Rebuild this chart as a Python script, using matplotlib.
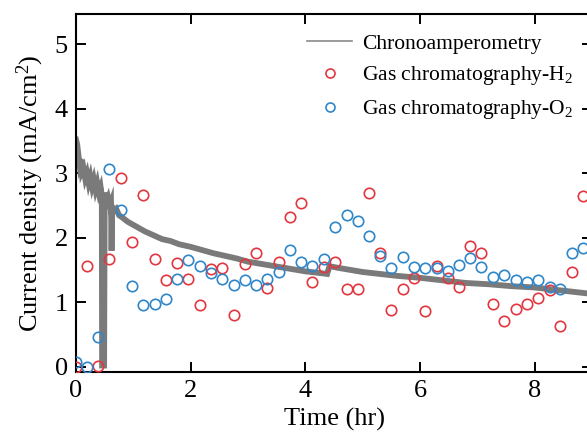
#!/usr/bin/env python3
"""Chronoamperometry vs gas chromatography current density over time."""

import matplotlib
matplotlib.use('Agg')
import matplotlib.pyplot as plt
from matplotlib.lines import Line2D

plt.rcParams['font.family'] = ['Liberation Serif', 'DejaVu Serif']
plt.rcParams['mathtext.fontset'] = 'custom'
plt.rcParams['mathtext.rm'] = 'Liberation Serif'
plt.rcParams['mathtext.it'] = 'Liberation Serif:italic'

# chronoamperometry trace (centre of the noisy band)
ca_time = [0.00, 0.02, 0.04, 0.06, 0.08, 0.10, 0.13, 0.16, 0.19, 0.22,
           0.25, 0.28, 0.31, 0.34, 0.37, 0.40, 0.43, 0.45, 0.455, 0.49,
           0.50, 0.53, 0.56, 0.59, 0.61, 0.62, 0.63, 0.66, 0.70, 0.75,
           0.80, 0.90, 1.00, 1.10, 1.20, 1.30, 1.40, 1.50, 1.65, 1.80,
           2.00, 2.20, 2.40, 2.60, 2.80, 3.00, 3.20, 3.40, 3.60, 3.80,
           4.00, 4.20, 4.38, 4.42, 4.60, 4.80, 5.00, 5.30, 5.60, 6.00,
           6.40, 6.80, 7.20, 7.60, 8.00, 8.40, 8.80, 9.00]
ca_current = [3.52, 3.45, 3.30, 3.15, 3.22, 3.02, 3.08, 2.92, 3.00, 2.85,
              2.95, 2.80, 2.90, 2.75, 2.85, 2.70, 2.78, 2.65, 0.02, 0.02,
              2.70, 2.55, 2.62, 2.50, 2.55, 1.80, 2.48, 2.42, 2.45, 2.35,
              2.32, 2.25, 2.20, 2.15, 2.10, 2.06, 2.02, 1.98, 1.95, 1.90,
              1.86, 1.81, 1.76, 1.72, 1.68, 1.63, 1.60, 1.57, 1.54, 1.51,
              1.48, 1.46, 1.44, 1.56, 1.53, 1.50, 1.47, 1.44, 1.41, 1.38,
              1.34, 1.30, 1.28, 1.25, 1.23, 1.19, 1.15, 1.13]

# gas chromatography sampling times (hr)
gc_time = [0.00, 0.19, 0.39, 0.58, 0.78, 0.98, 1.17, 1.37, 1.57, 1.77,
           1.96, 2.16, 2.35, 2.55, 2.75, 2.94, 3.14, 3.34, 3.54, 3.73,
           3.93, 4.12, 4.32, 4.52, 4.72, 4.91, 5.11, 5.30, 5.50, 5.70,
           5.90, 6.09, 6.29, 6.49, 6.68, 6.88, 7.07, 7.27, 7.47, 7.67,
           7.86, 8.06, 8.26, 8.45, 8.65, 8.85]
gc_h2 = [0.00, 1.57, 0.01, 1.67, 2.92, 1.93, 2.66, 1.67, 1.35, 1.61,
         1.36, 0.96, 1.51, 1.53, 0.80, 1.60, 1.76, 1.22, 1.62, 2.33,
         2.54, 1.32, 1.54, 1.62, 1.20, 1.20, 2.69, 1.77, 0.88, 1.20,
         1.37, 0.87, 1.57, 1.37, 1.24, 1.88, 1.77, 0.98, 0.71, 0.89,
         0.97, 1.07, 1.19, 0.64, 1.47, 2.65]
gc_o2 = [0.07, 0.00, 0.46, 3.07, 2.43, 1.25, 0.96, 0.98, 1.05, 1.36,
         1.65, 1.57, 1.46, 1.36, 1.27, 1.35, 1.27, 1.36, 1.47, 1.81,
         1.62, 1.57, 1.67, 2.17, 2.35, 2.26, 2.03, 1.72, 1.53, 1.70,
         1.55, 1.53, 1.53, 1.49, 1.58, 1.69, 1.55, 1.40, 1.42, 1.35,
         1.32, 1.34, 1.23, 1.20, 1.77, 1.84]

x_ticks = [0, 2, 4, 6, 8]
y_ticks = [0, 1, 2, 3, 4, 5]

GRAY = '#7a7a7a'
RED = '#e2373f'
BLUE = '#2f86c8'

fig = plt.figure(figsize=(5.87, 4.41), dpi=100)
# the original picture is cropped just before the right spine
ax = fig.add_axes([0.1295, 0.1565, 0.879, 0.8118])

ax.plot(ca_time, ca_current, color=GRAY, linewidth=4.2, solid_joinstyle='miter', zorder=2)
ax.plot(gc_time, gc_h2, linestyle='none', marker='o', markersize=7.5,
        markerfacecolor='none', markeredgecolor=RED, markeredgewidth=1.2, zorder=3)
ax.plot(gc_time, gc_o2, linestyle='none', marker='o', markersize=7.5,
        markerfacecolor='none', markeredgecolor=BLUE, markeredgewidth=1.2, zorder=3)

ax.set_xlim(0, 9)
ax.set_ylim(-0.08, 5.47)
ax.set_xticks(x_ticks)
ax.set_yticks(y_ticks)
ax.tick_params(direction='in', length=7, width=1.4, labelsize=19,
               top=True, right=True, pad=6)
for sp in ax.spines.values():
    sp.set_linewidth(1.5)

ax.set_xlabel('Time (hr)', fontsize=19, labelpad=4)
ax.set_ylabel('Current density (mA/cm$^2$)', fontsize=19, labelpad=6)

handles = [
    Line2D([], [], color='#8a8a8a', linewidth=1.2),
    Line2D([], [], linestyle='none', marker='o', markersize=6.5, markerfacecolor='none',
           markeredgecolor=RED, markeredgewidth=1.2),
    Line2D([], [], linestyle='none', marker='o', markersize=6.5, markerfacecolor='none',
           markeredgecolor=BLUE, markeredgewidth=1.2),
]
labels = ['Chronoamperometry', 'Gas chromatography-H$_2$', 'Gas chromatography-O$_2$']
fig.legend(handles, labels, loc='upper left', bbox_to_anchor=(0.523, 0.924),
           frameon=False, fontsize=15.5, handlelength=2.1, handletextpad=0.47,
           labelspacing=0.5, borderpad=0, borderaxespad=0)

fig.savefig('out.png', dpi=100)
